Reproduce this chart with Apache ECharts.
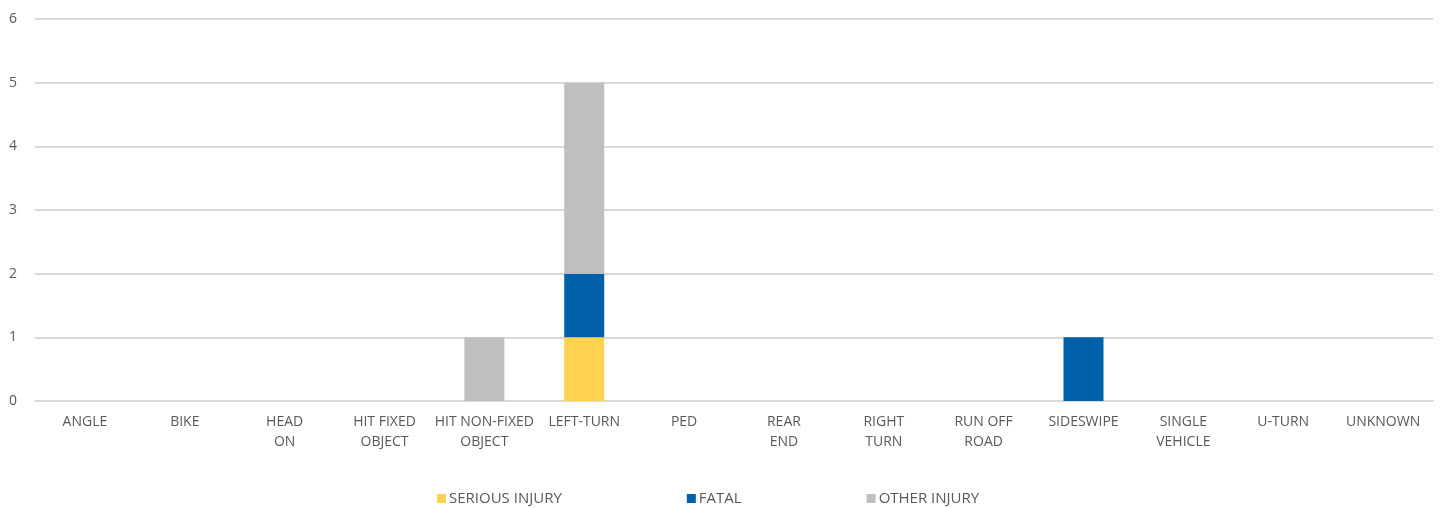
<!DOCTYPE html>
<html><head><meta charset="utf-8">
<script src="https://cdn.jsdelivr.net/npm/echarts@6/dist/echarts.min.js"></script>
<style>html,body{margin:0;padding:0;background:#fff}#c{width:1442px;height:508px}</style>
</head><body><div id="c"></div>
<script>
const categories = ["ANGLE","BIKE","HEAD\nON","HIT FIXED\nOBJECT","HIT NON-FIXED\nOBJECT","LEFT-TURN","PED","REAR\nEND","RIGHT\nTURN","RUN OFF\nROAD","SIDESWIPE","SINGLE\nVEHICLE","U-TURN","UNKNOWN"];
const seriousInjury = [0,0,0,0,0,1,0,0,0,0,0,0,0,0];
const fatal = [0,0,0,0,0,1,0,0,0,0,1,0,0,0];
const otherInjury = [0,0,0,0,1,3,0,0,0,0,0,0,0,0];
const yTicks = [0,1,2,3,4,5,6];

const font = "'Open Sans', sans-serif";
const chart = echarts.init(document.getElementById('c'));
chart.setOption({
  animation:false,
  textStyle:{fontFamily:font},
  grid:{left:35,right:9,top:19,bottom:107},
  legend:{
    left:432, top:486, itemGap:125, itemWidth:9, itemHeight:9, icon:'rect',
    textStyle:{fontFamily:font,fontSize:15,color:'#595959',padding:[0,0,0,-2]},
    data:['SERIOUS INJURY','FATAL','OTHER INJURY']
  },
  xAxis:{
    type:'category', data:categories,
    axisLine:{lineStyle:{color:'#d9d9d9',width:2}},
    axisTick:{show:false},
    axisLabel:{interval:0,color:'#595959',fontSize:14,lineHeight:20,margin:11,fontFamily:font}
  },
  yAxis:{
    type:'value', min:yTicks[0], max:yTicks[yTicks.length-1], interval:1,
    axisLine:{show:false}, axisTick:{show:false},
    axisLabel:{color:'#595959',fontSize:14,margin:18,fontFamily:font},
    splitLine:{lineStyle:{color:'#d9d9d9',width:2}}
  },
  series:[
    {name:'SERIOUS INJURY',type:'bar',stack:'a',data:seriousInjury,barWidth:40,itemStyle:{color:'#FFD24F'}},
    {name:'FATAL',type:'bar',stack:'a',data:fatal,barWidth:40,itemStyle:{color:'#0060AA'}},
    {name:'OTHER INJURY',type:'bar',stack:'a',data:otherInjury,barWidth:40,itemStyle:{color:'#BFBFBF'}}
  ]
});
</script></body></html>
